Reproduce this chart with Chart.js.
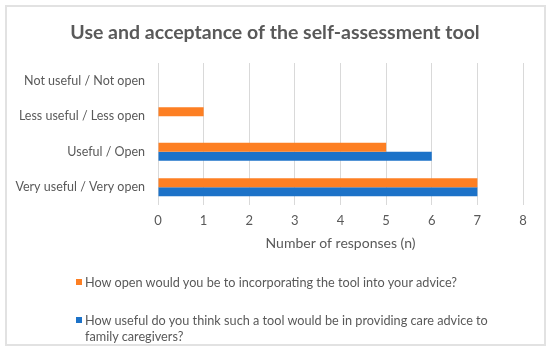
<!DOCTYPE html>
<html>
<head>
<meta charset="utf-8">
<script src="https://cdn.jsdelivr.net/npm/chart.js@4/dist/chart.umd.min.js"></script>
<style>
    body { margin: 0; background: #fff; }
    #wrap { position: relative; width: 550px; height: 351px; }
    #frame { position: absolute; left: 5px; top: 5px; width: 537px; height: 337px; border: 2px solid #e2e2e2; }
    .legend { position: absolute; left: 76px; font: 12.7px Lato, sans-serif; color: #595959; }
    .legend .box { position: absolute; left: 0; width: 6px; height: 6px; }
    .legend .txt { position: absolute; left: 9px; white-space: nowrap; line-height: 16px; }
</style>
</head>
<body>
<div id="wrap">
    <canvas id="chart" width="550" height="351"></canvas>
    <div id="frame"></div>
    <div class="legend" style="top: 279px;">
        <div class="box" style="top: 0; background: #fd7f23;"></div>
        <div class="txt" style="top: -5px;">How open would you be to incorporating the tool into your advice?</div>
    </div>
    <div class="legend" style="top: 317px;">
        <div class="box" style="top: 0; background: #1c72c8;"></div>
        <div class="txt" style="top: -5px;">How useful do you think such a tool would be in providing care advice to<br>family caregivers?</div>
    </div>
</div>
<script>
// Categorias e respostas
const categories = ['Not useful / Not open', 'Less useful / Less open', 'Useful / Open', 'Very useful / Very open'];
const openValues = [0, 1, 5, 7];
const usefulValues = [0, 0, 6, 7];
const seriesNames = ['How open would you be to incorporating the tool into your advice?',
    'How useful do you think such a tool would be in providing care advice to family caregivers?'];

const grey = '#595959';

const ctx = document.getElementById('chart');
new Chart(ctx, {
    type: 'bar',
    data: {
        labels: categories,
        datasets: [{
            label: seriesNames[0],
            data: openValues,
            backgroundColor: '#fd7f23',
            borderWidth: 0
        },
        {
            label: seriesNames[1],
            data: usefulValues,
            backgroundColor: '#1c72c8',
            borderWidth: 0
        }]
    },
    options: {
        indexAxis: 'y',
        responsive: false,
        animation: false,
        categoryPercentage: 0.51,
        barPercentage: 1,
        layout: {
            padding: { left: 0, right: 0, top: 0, bottom: 96 }
        },
        plugins: {
            legend: { display: false },
            tooltip: { enabled: false },
            title: {
                display: true,
                text: 'Use and acceptance of the self-assessment tool',
                color: grey,
                font: { family: 'Lato', size: 19.5, weight: 'bold' },
                padding: { top: 21.3, bottom: 18.3 }
            }
        },
        scales: {
            x: {
                min: 0,
                max: 8,
                ticks: {
                    stepSize: 1,
                    color: grey,
                    padding: 8,
                    font: { family: 'Lato', size: 13 }
                },
                grid: { color: '#d9d9d9', drawTicks: false },
                border: { display: false },
                title: {
                    display: true,
                    text: 'Number of responses (n)',
                    color: grey,
                    font: { family: 'Lato', size: 14 },
                    padding: { top: 0, bottom: 3 }
                },
                afterFit: function(scale) { scale.height = 50; }
            },
            y: {
                ticks: {
                    color: grey,
                    padding: 13,
                    font: { family: 'Lato', size: 12.5 }
                },
                grid: { display: false, drawTicks: false },
                border: { display: false },
                afterFit: function(scale) { scale.width = 158; }
            },
            // eixo vazio só para deixar a margem direita
            yRight: {
                type: 'category',
                position: 'right',
                ticks: { display: false },
                grid: { display: false, drawTicks: false },
                border: { display: false },
                afterFit: function(scale) { scale.width = 27; }
            }
        }
    }
});
</script>
</body>
</html>
